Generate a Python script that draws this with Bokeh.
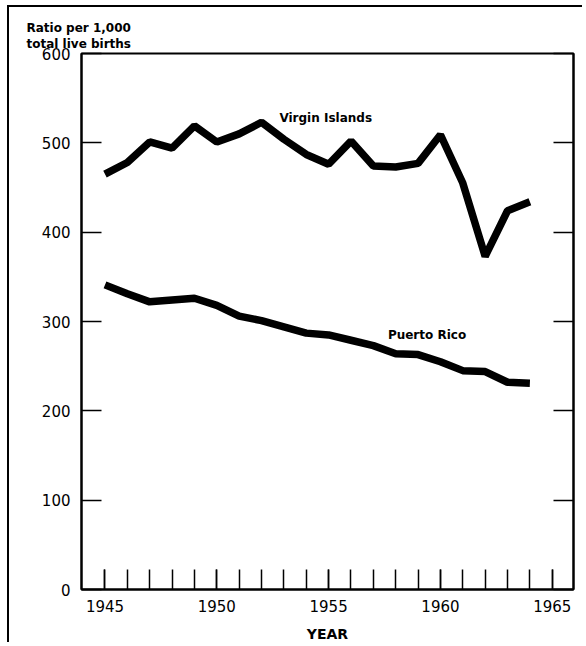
from bokeh.plotting import figure
from bokeh.models import Range1d, FixedTicker, LinearAxis, Label, Title
from bokeh.embed import file_html
from bokeh.resources import INLINE

years = list(range(1945, 1965))
virgin_islands = [465, 478, 501, 494, 519, 501, 510, 523, 504, 487,
                  476, 502, 474, 473, 477, 509, 455, 373, 424, 434]
puerto_rico = [341, 331, 322, 324, 326, 318, 306, 301, 294, 287,
               285, 279, 273, 264, 263, 255, 245, 244, 232, 231]
x_major = [1945, 1950, 1955, 1960, 1965]
x_minor = list(range(1945, 1966))
y_major = [0, 100, 200, 300, 400, 500, 600]

FONT = "DejaVu Sans"

p = figure(width=575, height=637, output_backend="svg", toolbar_location=None,
           x_range=Range1d(1943.95, 1965.95), y_range=Range1d(0, 600),
           min_border_left=72, min_border_right=11, min_border_top=46,
           min_border_bottom=52)
p.xgrid.visible = False
p.ygrid.visible = False
p.outline_line_color = "black"
p.outline_line_width = 2
p.background_fill_color = "white"
p.border_fill_color = "white"

# y axis title as a two-line title above the frame
t = Title(text="Ratio per 1,000\ntotal live births", align="left", offset=-55,
          standoff=5, text_font=FONT, text_font_size="12px",
          text_font_style="bold", text_color="black", text_line_height=1.15)
p.add_layout(t, "above")

# x axis
xa = p.xaxis[0]
xa.ticker = FixedTicker(ticks=x_major, minor_ticks=x_minor)
xa.major_tick_in = 20
xa.major_tick_out = 0
xa.minor_tick_in = 20
xa.minor_tick_out = 0
xa.major_tick_line_width = 1.5
xa.minor_tick_line_width = 1.5
xa.major_tick_line_color = "black"
xa.minor_tick_line_color = "black"
xa.axis_line_width = 2
xa.axis_line_color = "black"
xa.major_label_text_font = FONT
xa.major_label_text_font_size = "15px"
xa.major_label_text_color = "black"
xa.major_label_standoff = 10
xa.axis_label = "YEAR"
xa.axis_label_text_font = FONT
xa.axis_label_text_font_size = "14px"
xa.axis_label_text_font_style = "bold"
xa.axis_label_text_color = "black"
xa.axis_label_standoff = 11

# y axis (left)
ya = p.yaxis[0]
ya.ticker = FixedTicker(ticks=y_major, minor_ticks=[])
ya.major_tick_in = 20
ya.major_tick_out = 0
ya.minor_tick_in = 0
ya.minor_tick_out = 0
ya.major_tick_line_width = 1.5
ya.major_tick_line_color = "black"
ya.axis_line_width = 2
ya.axis_line_color = "black"
ya.major_label_text_font = FONT
ya.major_label_text_font_size = "15px"
ya.major_label_text_color = "black"
ya.major_label_standoff = 11

# y axis (right, ticks only)
ra = LinearAxis(ticker=FixedTicker(ticks=y_major, minor_ticks=[]))
ra.major_tick_in = 20
ra.major_tick_out = 0
ra.minor_tick_in = 0
ra.minor_tick_out = 0
ra.major_tick_line_width = 1.5
ra.major_tick_line_color = "black"
ra.axis_line_width = 2
ra.axis_line_color = "black"
ra.major_label_text_font_size = "0px"
ra.major_label_text_alpha = 0
ra.major_label_standoff = 0
p.add_layout(ra, "right")

p.line(years, virgin_islands, line_color="black", line_width=7.5)
p.line(years, puerto_rico, line_color="black", line_width=7.5)

p.add_layout(Label(x=1952.8, y=528, text="Virgin Islands", text_font=FONT,
                   text_font_size="12px", text_font_style="bold",
                   text_color="black", text_baseline="middle", text_align="left"))
p.add_layout(Label(x=1957.65, y=285, text="Puerto Rico", text_font=FONT,
                   text_font_size="12px", text_font_style="bold",
                   text_color="black", text_baseline="middle", text_align="left"))

p.styles = {"border-left": "2px solid black", "border-top": "2px solid black",
            "margin-left": "7px", "margin-top": "5px"}

open("out.html", "w").write(file_html(p, INLINE))
